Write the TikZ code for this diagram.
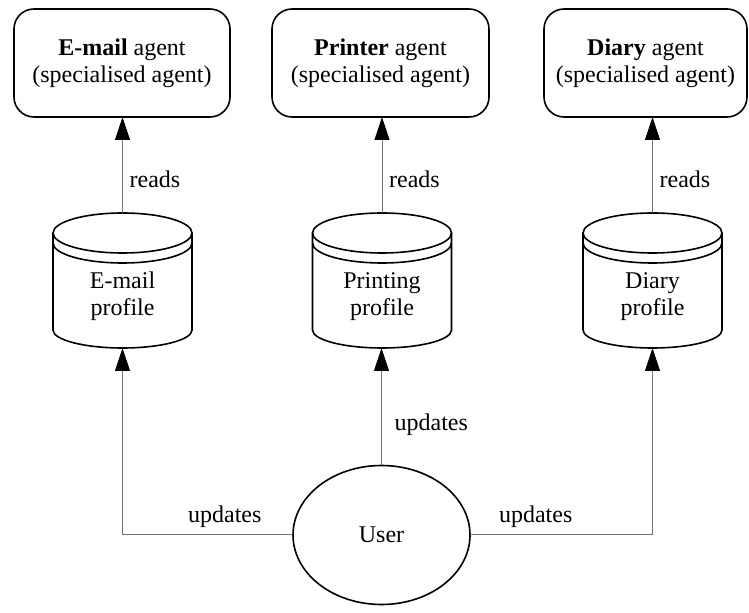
\documentclass[tikz,border=0pt]{standalone}
\usepackage{fontspec}
\setmainfont{Liberation Serif}
\usetikzlibrary{arrows.meta, shapes.geometric}

\tikzset{
  agent/.style={draw, rounded corners=10pt, line width=0.8pt, align=center,
    inner sep=0pt, outer sep=0pt, minimum height=54pt},
  profile/.style={inner sep=0pt, outer sep=0pt, minimum width=69.5pt,
    text height=51.5pt, text depth=16pt},
  userbox/.style={draw, ellipse, line width=0.8pt, inner sep=0pt, outer sep=0pt,
    minimum width=88.5pt, minimum height=69.5pt},
  can/.style={line width=0.8pt},
  link/.style={draw=black!55, line width=0.5pt,
    -{Triangle[length=11.5pt, width=7.5pt, color=black]}},
}

% database drawn round a profile node
\newcommand{\drawcan}[1]{%
  \draw[can] ([yshift=-10pt]#1.north) ellipse [x radius=34.75pt, y radius=10pt];
  \draw[can] ([yshift=-10pt]#1.north west) -- ([yshift=9pt]#1.south west)
    arc [start angle=180, end angle=360, x radius=34.75pt, y radius=9pt]
    -- ([yshift=-10pt]#1.north east);
  \draw[can] ([yshift=-15pt]#1.north west)
    arc [start angle=180, end angle=360, x radius=34.75pt, y radius=10pt];
}

\begin{document}
\begin{tikzpicture}[x=0.5pt, y=-0.5pt, font=\fontsize{12}{13.5}\selectfont]
        \useasboundingbox (0,0) rectangle (749,613);

        % Agentes
        \node[agent, minimum width=108pt] (emailagent) at (122,63)
            {\textbf{E-mail} agent\\(specialised agent)};
        \node[agent, minimum width=108.5pt] (printagent) at (380.5,63)
            {\textbf{Printer} agent\\(specialised agent)};
        \node[agent, minimum width=101.5pt] (diaryagent) at (645.5,63)
            {\textbf{Diary} agent\\(specialised agent)};

        % Perfis
        \node[profile] (emailprof) at (122.5,280.5)
            {\begin{tabular}[b]{@{}c@{}}E-mail\\profile\end{tabular}};
        \node[profile] (printprof) at (382,280.5)
            {\begin{tabular}[b]{@{}c@{}}Printing\\profile\end{tabular}};
        \node[profile] (diaryprof) at (652.5,280.5)
            {\begin{tabular}[b]{@{}c@{}}Diary\\profile\end{tabular}};
        \drawcan{emailprof}
        \drawcan{printprof}
        \drawcan{diaryprof}

        % Usuario
        \node[userbox] (user) at (381.5,535) {User};

        \draw[link] (emailprof.north) -- (emailprof.north |- emailagent.south)
            node[right, pos=0.35] {reads};
        \draw[link] (printprof.north) -- (printprof.north |- printagent.south)
            node[right, pos=0.35] {reads};
        \draw[link] (diaryprof.north) -- (diaryprof.north |- diaryagent.south)
            node[right, pos=0.35] {reads};

        \draw[link] (user.north) -- (user.north |- printprof.south)
            node[right, pos=0.35, xshift=3pt] {updates};
        \draw[link] (user.west) -| (emailprof.south)
            node[above, pos=0.2] {updates};
        \draw[link] (user.east) -| (diaryprof.south)
            node[above, pos=0.18] {updates};
\end{tikzpicture}
\end{document}
